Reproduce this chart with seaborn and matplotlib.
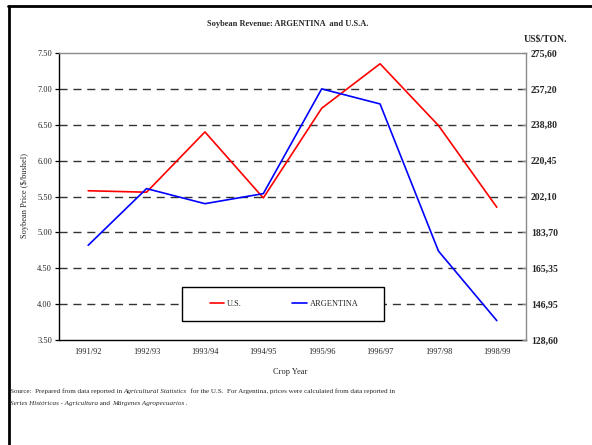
import numpy as np
import pandas as pd
import matplotlib
matplotlib.use("Agg")
import matplotlib.pyplot as plt
import seaborn as sns
from matplotlib.lines import Line2D
from matplotlib.patches import Rectangle

# Crop years and prices ($/bushel)
crop_years = ["1991/92", "1992/93", "1993/94", "1994/95",
              "1995/96", "1996/97", "1997/98", "1998/99"]
us_price = [5.58, 5.56, 6.40, 5.48, 6.73, 7.35, 6.49, 5.35]
arg_price = [4.82, 5.61, 5.40, 5.54, 7.00, 6.79, 4.74, 3.77]

series_names = ["U.S.", "ARGENTINA"]
series_colors = ["#FF0000", "#0000FF"]

# Left axis ($/bushel) and matching right axis (US$/ton) labels
price_ticks = [3.5, 4.0, 4.5, 5.0, 5.5, 6.0, 6.5, 7.0, 7.5]
price_labels = ["3.50", "4.00", "4.50", "5.00", "5.50", "6.00", "6.50", "7.00", "7.50"]
ton_labels = ["128,60", "146,95", "165,35", "183,70", "202,10",
              "220,45", "238,80", "257,20", "275,60"]

sns.set_style("white")
plt.rcParams["font.family"] = ["Liberation Serif", "DejaVu Serif"]

df = pd.DataFrame({
    "pos": list(range(len(crop_years))) * 2,
    "price": us_price + arg_price,
    "series": [series_names[0]] * len(crop_years) + [series_names[1]] * len(crop_years),
})

W, H = 592, 445
fig = plt.figure(figsize=(W / 100, H / 100), dpi=100)
fig.patch.set_facecolor("white")

L, R, T, B = 59, 526, 53, 340
ax = fig.add_axes([L / W, 1 - B / H, (R - L) / W, (B - T) / H])

# dashed horizontal guides between the bottom and top
for v in price_ticks[1:-1]:
    ax.axhline(v, color="#333333", lw=1.0, ls=(0, (5.8, 4.2)), zorder=1)

sns.lineplot(data=df, x="pos", y="price", hue="series", hue_order=series_names,
             palette=series_colors, lw=1.2, ax=ax, legend=False, zorder=3,
             errorbar=None)

ax.set_xlim(-0.5, len(crop_years) - 0.5)
ax.set_ylim(price_ticks[0], price_ticks[-1])
ax.set_yticks(price_ticks, price_labels)
ax.set_xticks(range(len(crop_years)), crop_years)
ax.set_xticks(np.arange(-0.5, len(crop_years), 1.0), minor=True)
ax.tick_params(axis="x", which="major", length=0, pad=6, labelsize=6)
ax.tick_params(axis="x", which="minor", length=3, width=0.9, direction="out", color="black")
ax.tick_params(axis="y", length=3, width=0.9, direction="out", color="black", pad=2, labelsize=6)
ax.set_xlabel("Crop Year", fontsize=6)
ax.set_ylabel("Soybean Price ($/bushel)", fontsize=6)
ax.xaxis.set_label_coords(0.4957, -0.0976)
ax.yaxis.set_label_coords(-0.0642, 0.502)

for side in ["left", "bottom"]:
    ax.spines[side].set_color("black")
    ax.spines[side].set_linewidth(1.0)
ax.spines["top"].set_color("#8a8a8a")
ax.spines["top"].set_linewidth(1.0)
ax.spines["right"].set_visible(False)

# right axis in US$/ton
ax2 = ax.twinx()
ax2.set_ylim(price_ticks[0], price_ticks[-1])
ax2.set_yticks(price_ticks, ton_labels)
ax2.tick_params(axis="y", direction="in", length=3, width=0.9, color="#8a8a8a",
                pad=3.5, labelsize=7)
for lbl in ax2.get_yticklabels():
    lbl.set_fontweight("bold")
for side in ["left", "bottom", "top"]:
    ax2.spines[side].set_visible(False)
ax2.spines["right"].set_color("#8a8a8a")
ax2.spines["right"].set_linewidth(1.0)

# legend box
ax.add_patch(Rectangle((0.2627, 0.0672), 0.4339, 0.1164, transform=ax.transAxes,
                       facecolor="white", edgecolor="black", lw=1.0, zorder=4,
                       clip_on=False))
handles = [Line2D([], [], color=c, lw=1.2) for c in series_colors]
ax.legend(handles, series_names, ncol=2, loc="center", bbox_to_anchor=(0.4818, 0.1254),
          frameon=False, fontsize=6, handlelength=1.7, handletextpad=0.35,
          columnspacing=6.1, borderpad=0, borderaxespad=0).set_zorder(5)

fig.text(288 / W, 1 - 24.3 / H, "Soybean Revenue: ARGENTINA  and U.S.A.",
         ha="center", va="center", fontsize=6, fontweight="bold")
fig.text(545.8 / W, 1 - 39.3 / H, "US$/TON.", ha="center", va="center",
         fontsize=7, fontweight="bold")

# source note with italic publication titles, pieces laid out on a shared baseline
renderer = fig.canvas.get_renderer()


def note_line(x, y, pieces):
    for txt, style in pieces:
        t = fig.text(x, y, txt, ha="left", va="baseline", fontsize=5.1, style=style)
        bb = t.get_window_extent(renderer)
        x += bb.width / (W)


note_line(10 / W, 1 - 393 / H, [
    ("Source:  Prepared from data reported in ", "normal"),
    ("Agricultural Statistics", "italic"),
    ("  for the U.S.  For Argentina, prices were calculated from data reported in", "normal"),
])
note_line(10 / W, 1 - 405 / H, [
    ("Series Históricas - Agricultura", "italic"),
    (" and ", "normal"),
    ("Márgenes Agropecuarios", "italic"),
    (" .", "normal"),
])

# outer frame lines
fig.add_artist(Line2D([8.5 / W, 8.5 / W], [0, 1 - 5.5 / H], transform=fig.transFigure,
                      color="black", lw=2.0))
fig.add_artist(Line2D([7.5 / W, 1], [1 - 5.5 / H, 1 - 5.5 / H], transform=fig.transFigure,
                      color="black", lw=2.0))

fig.savefig("out.png", dpi=100, facecolor="white")
